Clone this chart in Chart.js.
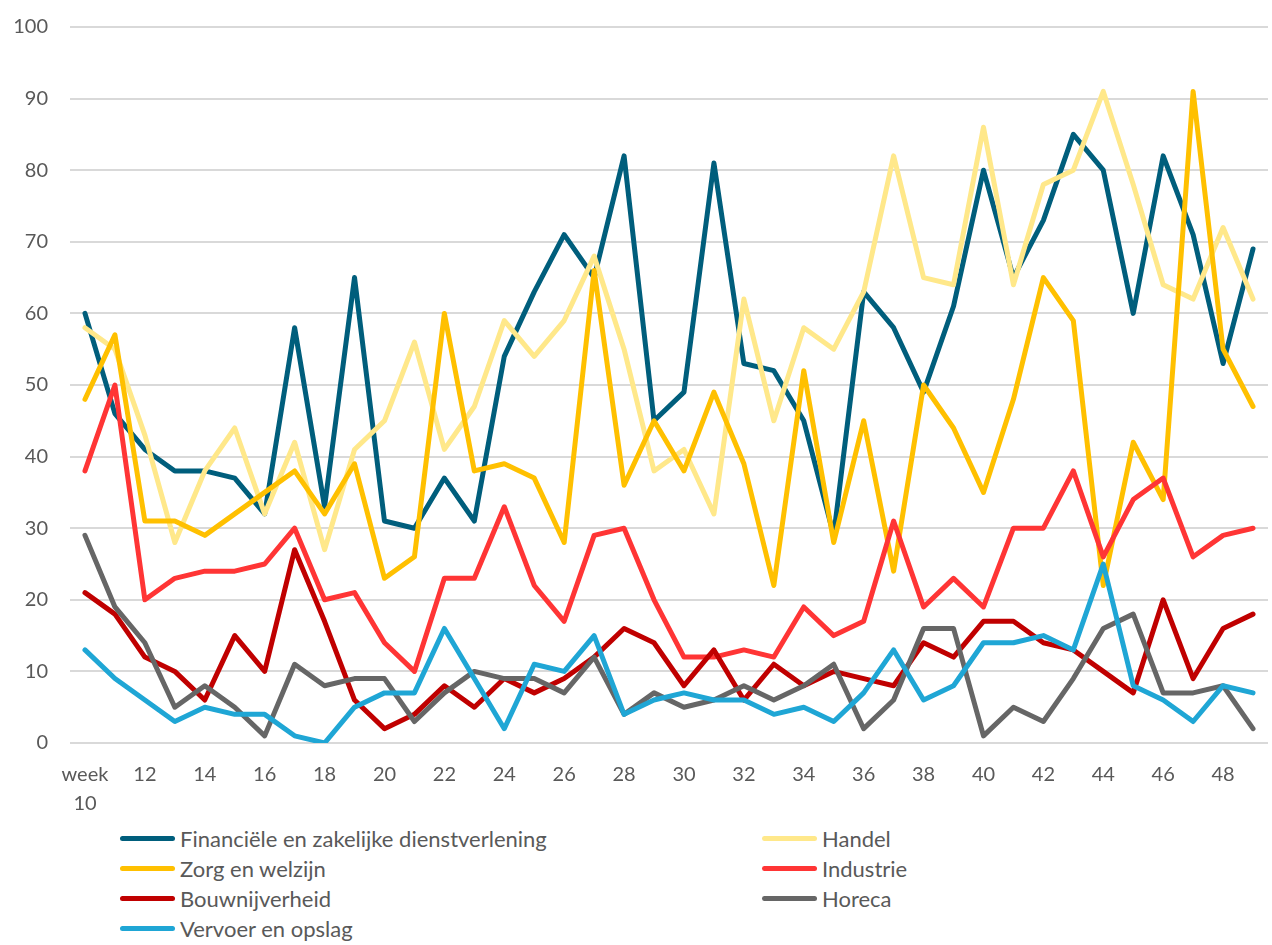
<!DOCTYPE html>
<html>
<head>
<meta charset="utf-8">
<script src="https://cdn.jsdelivr.net/npm/chart.js@4.4.0/dist/chart.umd.min.js"></script>
<style>
  body { margin: 0; background: #fff; }
  #wrap { position: relative; width: 1272px; height: 945px; }
  #chart { position: absolute; left: 0; top: 0; }
  #legend { position: absolute; left: 0; top: 0; font-family: Lato, sans-serif; font-size: 22px; color: #595959; }
  .item { position: absolute; display: flex; align-items: center; height: 30px; white-space: nowrap; }
  .swatch { width: 55px; height: 5px; border-radius: 3px; margin-right: 5px; }
</style>
</head>
<body>
<div id="wrap">
  <canvas id="chart" width="1272" height="820"></canvas>
  <div id="legend"></div>
</div>
<script>
const weeks = [['week', '10'], '11', '12', '13', '14', '15', '16', '17', '18', '19',
  '20', '21', '22', '23', '24', '25', '26', '27', '28', '29',
  '30', '31', '32', '33', '34', '35', '36', '37', '38', '39',
  '40', '41', '42', '43', '44', '45', '46', '47', '48', '49']

const financieel = [60, 46, 41, 38, 38, 37, 32, 58, 33, 65, 31, 30, 37, 31, 54, 63, 71, 65, 82, 45,
  49, 81, 53, 52, 45, 29, 63, 58, 49, 61, 80, 65, 73, 85, 80, 60, 82, 71, 53, 69]
const handel = [58, 55, 43, 28, 38, 44, 32, 42, 27, 41, 45, 56, 41, 47, 59, 54, 59, 68, 55, 38,
  41, 32, 62, 45, 58, 55, 63, 82, 65, 64, 86, 64, 78, 80, 91, 78, 64, 62, 72, 62]
const zorg = [48, 57, 31, 31, 29, 32, 35, 38, 32, 39, 23, 26, 60, 38, 39, 37, 28, 66, 36, 45,
  38, 49, 39, 22, 52, 28, 45, 24, 50, 44, 35, 48, 65, 59, 22, 42, 34, 91, 55, 47]
const industrie = [38, 50, 20, 23, 24, 24, 25, 30, 20, 21, 14, 10, 23, 23, 33, 22, 17, 29, 30, 20,
  12, 12, 13, 12, 19, 15, 17, 31, 19, 23, 19, 30, 30, 38, 26, 34, 37, 26, 29, 30]
const bouw = [21, 18, 12, 10, 6, 15, 10, 27, 17, 6, 2, 4, 8, 5, 9, 7, 9, 12, 16, 14,
  8, 13, 6, 11, 8, 10, 9, 8, 14, 12, 17, 17, 14, 13, 10, 7, 20, 9, 16, 18]
const horeca = [29, 19, 14, 5, 8, 5, 1, 11, 8, 9, 9, 3, 7, 10, 9, 9, 7, 12, 4, 7,
  5, 6, 8, 6, 8, 11, 2, 6, 16, 16, 1, 5, 3, 9, 16, 18, 7, 7, 8, 2]
const vervoer = [13, 9, 6, 3, 5, 4, 4, 1, 0, 5, 7, 7, 16, 9, 2, 11, 10, 15, 4, 6,
  7, 6, 6, 4, 5, 3, 7, 13, 6, 8, 14, 14, 15, 13, 25, 8, 6, 3, 8, 7]

const yTicks = [0, 10, 20, 30, 40, 50, 60, 70, 80, 90, 100]

const series = [
  { label: 'Financiële en zakelijke dienstverlening', data: financieel, color: '#005E7C' },
  { label: 'Handel', data: handel, color: '#FFE88A' },
  { label: 'Zorg en welzijn', data: zorg, color: '#FFC000' },
  { label: 'Industrie', data: industrie, color: '#FF3535' },
  { label: 'Bouwnijverheid', data: bouw, color: '#C00000' },
  { label: 'Horeca', data: horeca, color: '#666666' },
  { label: 'Vervoer en opslag', data: vervoer, color: '#1FA6D5' }
]

const textColor = '#595959'
const font = { family: 'Lato', size: 20, lineHeight: 1.45 }

const datasets = series.map((s, i) => ({
  label: s.label,
  data: s.data,
  borderColor: s.color,
  backgroundColor: s.color,
  borderWidth: 5,
  pointRadius: 0,
  tension: 0,
  fill: false,
  borderCapStyle: 'round',
  borderJoinStyle: 'round',
  order: series.length - i
}))

const chart = new Chart(document.getElementById('chart'), {
  type: 'line',
  data: { labels: weeks, datasets },
  options: {
    responsive: false,
    animation: false,
    layout: { padding: { top: 27, right: 4, left: 0, bottom: 0 } },
    plugins: {
      legend: { display: false },
      tooltip: { enabled: false }
    },
    scales: {
      x: {
        offset: true,
        grid: { display: false, drawTicks: false },
        border: { display: false },
        ticks: {
          autoSkip: false,
          maxRotation: 0,
          padding: 17,
          color: textColor,
          font,
          callback: (v, i) => (i % 2 === 0 ? weeks[i] : null)
        },
        afterFit: scale => {
          scale.height = 77
          scale.paddingLeft = 0
          scale.paddingRight = 0
        }
      },
      y: {
        min: 0,
        max: 100,
        grid: { color: '#D9D9D9', lineWidth: 2, drawTicks: false },
        border: { display: false },
        afterBuildTicks: scale => { scale.ticks = yTicks.map(v => ({ value: v })) },
        ticks: { padding: 22, color: textColor, font: { family: 'Lato', size: 20, lineHeight: 1 } },
        afterFit: scale => {
          scale.width = 70
          scale.paddingTop = 0
          scale.paddingBottom = 0
        }
      }
    }
  }
})

// two-column legend under the chart, same order as the series
const legend = document.getElementById('legend')
const colX = [120, 762]
const rowY = [823, 853, 883, 913]
chart.data.datasets.forEach((ds, i) => {
  const item = document.createElement('div')
  item.className = 'item'
  item.style.left = colX[i % 2] + 'px'
  item.style.top = rowY[Math.floor(i / 2)] + 'px'
  const sw = document.createElement('span')
  sw.className = 'swatch'
  sw.style.background = ds.borderColor
  const txt = document.createElement('span')
  txt.textContent = ds.label
  item.appendChild(sw)
  item.appendChild(txt)
  legend.appendChild(item)
})
</script>
</body>
</html>
